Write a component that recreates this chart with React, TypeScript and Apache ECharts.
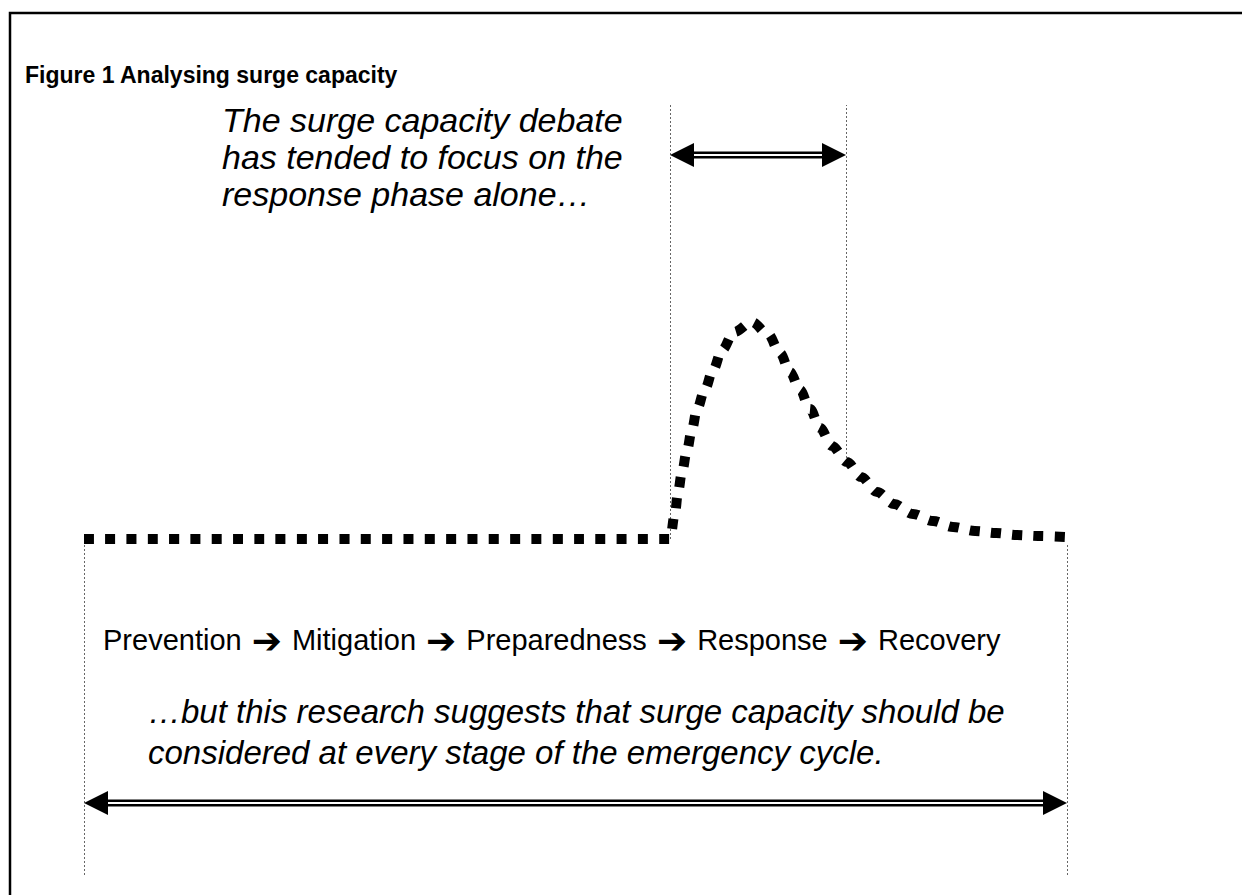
import React, { useEffect, useRef } from "react";
import * as echarts from "echarts";

// Curve (time on x, load on y)
const curveX = [0, 586, 591, 594, 598, 603, 608, 613, 621, 629, 638, 650, 668, 684, 696, 706, 716, 726, 736, 748, 763, 777, 793, 810, 829, 849, 869, 891, 912, 933, 954, 983];
const curveY = [336, 336, 362, 383, 403, 425, 446, 466, 486, 505, 525, 543, 553, 541, 522, 503, 485, 466, 447, 429, 413, 398, 383, 371, 361, 354, 348, 344, 342, 340, 339, 338];

// vertical dotted guides: [x, yFrom, yTo]
const guideX = [586, 762, 0, 983];
const guideFrom = [336, 413, 0, 0];
const guideTo = [770, 770, 330, 330];

// double arrows: [xFrom, xTo, y]
const arrowFrom = [586, 0];
const arrowTo = [762, 983];
const arrowY = [720, 72];

const titleText = "Figure 1 Analysing surge capacity";
const topNote = ["The surge capacity debate", "has tended to focus on the", "response phase alone…"];
const phases = ["Prevention", "Mitigation", "Preparedness", "Response", "Recovery"];
const bottomNote = ["…but this research suggests that surge capacity should be", "considered at every stage of the emergency cycle."];

const FONT = "'Liberation Sans', Arial, sans-serif";

export default function App() {
  const ref = useRef<HTMLDivElement>(null);
  useEffect(() => {
    const chart = echarts.init(ref.current!, null, { renderer: "svg" });
    const phaseRich = phases
      .map((p) => `{w|${p}}`)
      .join("{s| }{a|➔}{s| }");
    chart.setOption({
      animation: false,
      backgroundColor: "#fff",
      grid: { left: 84, right: 175, top: 105, bottom: 20 },
      xAxis: { type: "value", min: 0, max: 983, show: false },
      yAxis: { type: "value", min: 0, max: 770, show: false },
      graphic: [
        {
          type: "rect",
          shape: { x: 10, y: 13, width: 1260, height: 900 },
          style: { fill: "none", stroke: "#000", lineWidth: 2.5 },
          silent: true,
        },
        {
          type: "text",
          x: 25,
          y: 75,
          style: { text: titleText, font: `bold 23px ${FONT}`, fill: "#000", textVerticalAlign: "middle" },
        },
        ...topNote.map((t, i) => ({
          type: "text",
          x: 222,
          y: 120 + i * 37,
          style: { text: t, font: `italic 34px ${FONT}`, fill: "#000", textVerticalAlign: "middle" },
        })),
        {
          type: "text",
          x: 103,
          y: 640,
          style: {
            text: phaseRich,
            fill: "#000",
            textVerticalAlign: "middle",
            rich: {
              w: { fontFamily: FONT, fontSize: 29, fill: "#000" },
              s: { fontFamily: FONT, fontSize: 29 },
              a: { fontFamily: "'DejaVu Sans', sans-serif", fontSize: 36, fontWeight: "bold", fill: "#000", padding: [0, 2] },
            },
          },
        },
        ...bottomNote.map((t, i) => ({
          type: "text",
          x: 148,
          y: 711 + i * 41,
          style: { text: t, font: `italic 33px ${FONT}`, fill: "#000", textVerticalAlign: "middle" },
        })),
      ],
      series: [
        {
          type: "custom",
          coordinateSystem: "cartesian2d",
          data: guideX.map((x, i) => [x, guideFrom[i], guideTo[i]]),
          renderItem: (params: any, api: any) => {
            const a = api.coord([api.value(0), api.value(1)]);
            const b = api.coord([api.value(0), api.value(2)]);
            return {
              type: "line",
              shape: { x1: Math.round(a[0]) + 0.5, y1: a[1], x2: Math.round(b[0]) + 0.5, y2: b[1] },
              style: { stroke: "#666", lineWidth: 1, lineDash: [2, 2] },
            };
          },
          silent: true,
          z: 1,
        },
        {
          type: "line",
          data: curveX.map((x, i) => [x, curveY[i]]),
          showSymbol: false,
          smooth: 0.35,
          smoothMonotone: "x",
          lineStyle: { color: "#000", width: 10, type: [10, 11.3], cap: "butt", join: "miter" },
          silent: true,
          z: 3,
        },
        {
          type: "custom",
          coordinateSystem: "cartesian2d",
          data: arrowFrom.map((x, i) => [x, arrowTo[i], arrowY[i]]),
          renderItem: (params: any, api: any) => {
            const a = api.coord([api.value(0), api.value(2)]);
            const b = api.coord([api.value(1), api.value(2)]);
            const y = a[1];
            const L = 24;
            const H = 12;
            return {
              type: "group",
              children: [
                { type: "line", shape: { x1: a[0] + 10, y1: y, x2: b[0] - 10, y2: y }, style: { stroke: "#000", lineWidth: 7 } },
                { type: "line", shape: { x1: a[0] + 10, y1: y, x2: b[0] - 10, y2: y }, style: { stroke: "#fff", lineWidth: 2 } },
                { type: "polygon", shape: { points: [[a[0], y], [a[0] + L, y - H], [a[0] + L, y + H]] }, style: { fill: "#000" } },
                { type: "polygon", shape: { points: [[b[0], y], [b[0] - L, y - H], [b[0] - L, y + H]] }, style: { fill: "#000" } },
              ],
            };
          },
          silent: true,
          z: 4,
        },
      ],
    });
    return () => chart.dispose();
  }, []);
  return <div ref={ref} style={{ position: "absolute", left: 0, top: 0, width: 1242, height: 895 }} />;
}
